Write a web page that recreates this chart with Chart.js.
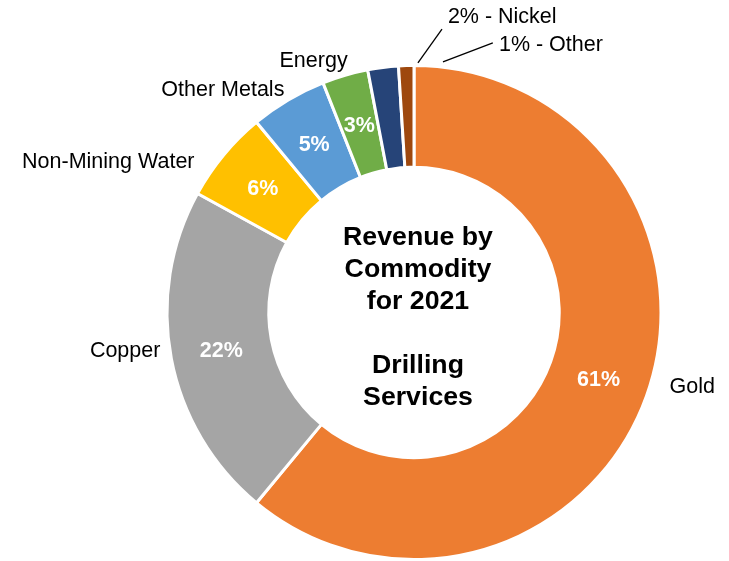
<!DOCTYPE html>
<html>
<head>
<meta charset="utf-8">
<script src="https://cdn.jsdelivr.net/npm/chart.js@4/dist/chart.umd.min.js"></script>
<style>
  html, body { margin: 0; padding: 0; background: #ffffff; }
  #wrap { width: 729px; height: 561px; }
</style>
</head>
<body>
<div id="wrap"><canvas id="c" width="729" height="561"></canvas></div>
<script>
// ---- data ----
const categories = ["Gold", "Copper", "Non-Mining Water", "Other Metals", "Energy", "Nickel", "Other"];
const revenueShare = [61, 22, 6, 5, 3, 2, 1];
const percentLabels = ["61%", "22%", "6%", "5%", "3%", "2%", "1%"];
const insideLabelShown = [true, true, true, true, true, false, false];
const outsideLabels = ["Gold", "Copper", "Non-Mining Water", "Other Metals", "Energy", "2% - Nickel", "1% - Other"];
const centerTitle = ["Revenue by", "Commodity", "for 2021", "", "Drilling", "Services"];

// ---- styles / layout ----
const sliceColors = ["#ED7D31", "#A5A5A5", "#FFC000", "#5B9BD5", "#70AD47", "#264478", "#9E480E"];
const FONT = "'Liberation Sans', Arial, Helvetica, sans-serif";
// outside label anchors relative to chart centre, in units of outer radius
const outsideLayout = [
  { dx: 1.041, dy: 0.300, align: "left" },
  { dx: -1.033, dy: 0.152, align: "right" },
  { dx: -0.894, dy: -0.618, align: "right" },
  { dx: -0.528, dy: -0.911, align: "right" },
  { dx: -0.409, dy: -1.028, align: "center" },
  { dx: 0.138, dy: -1.207, align: "left" },
  { dx: 0.346, dy: -1.094, align: "left" }
];
// leader lines for small slices (from, to), same units
const leaderLines = [
  null, null, null, null, null,
  { x1: 0.016, y1: -1.017, x2: 0.114, y2: -1.154 },
  { x1: 0.118, y1: -1.021, x2: 0.321, y2: -1.098 }
];

const labelPlugin = {
  id: "labelPlugin",
  afterDatasetsDraw(chart) {
    const ctx = chart.ctx;
    const meta = chart.getDatasetMeta(0);
    const arc0 = meta.data[0];
    const cx = arc0.x, cy = arc0.y;
    const R = arc0.outerRadius - 1.5;
    ctx.save();
    // inside percentage labels
    ctx.font = "bold 21.5px " + FONT;
    ctx.fillStyle = "#ffffff";
    ctx.textAlign = "center";
    ctx.textBaseline = "middle";
    meta.data.forEach((arc, i) => {
      if (!insideLabelShown[i]) return;
      const p = arc.getCenterPoint();
      ctx.fillText(percentLabels[i], p.x, p.y + 1.5);
    });
    // outside category labels
    ctx.font = "21.5px " + FONT;
    ctx.fillStyle = "#000000";
    outsideLabels.forEach((t, i) => {
      const L = outsideLayout[i];
      ctx.textAlign = L.align;
      ctx.fillText(t, cx + L.dx * R, cy + L.dy * R + 1);
    });
    // leader lines
    ctx.strokeStyle = "#000000";
    ctx.lineWidth = 1.3;
    leaderLines.forEach((l) => {
      if (!l) return;
      ctx.beginPath();
      ctx.moveTo(cx + l.x1 * R, cy + l.y1 * R);
      ctx.lineTo(cx + l.x2 * R, cy + l.y2 * R);
      ctx.stroke();
    });
    // centre title
    ctx.font = "bold 26.7px " + FONT;
    ctx.textAlign = "center";
    const lh = 32;
    const startY = cy - 75;
    centerTitle.forEach((t, i) => {
      if (t) ctx.fillText(t, cx + 4, startY + i * lh);
    });
    ctx.restore();
  }
};

new Chart(document.getElementById("c"), {
  type: "doughnut",
  data: {
    labels: categories,
    datasets: [{
      data: revenueShare,
      backgroundColor: sliceColors,
      borderColor: "#ffffff",
      borderWidth: 3,
      hoverOffset: 0
    }]
  },
  options: {
    responsive: false,
    animation: false,
    devicePixelRatio: 1,
    radius: 247,
    cutout: "58.8%",
    layout: { padding: { left: 99, right: 0, top: 64, bottom: 0 } },
    plugins: {
      legend: { display: false },
      tooltip: { enabled: false },
      title: { display: false }
    }
  },
  plugins: [labelPlugin]
});
</script>
</body>
</html>
